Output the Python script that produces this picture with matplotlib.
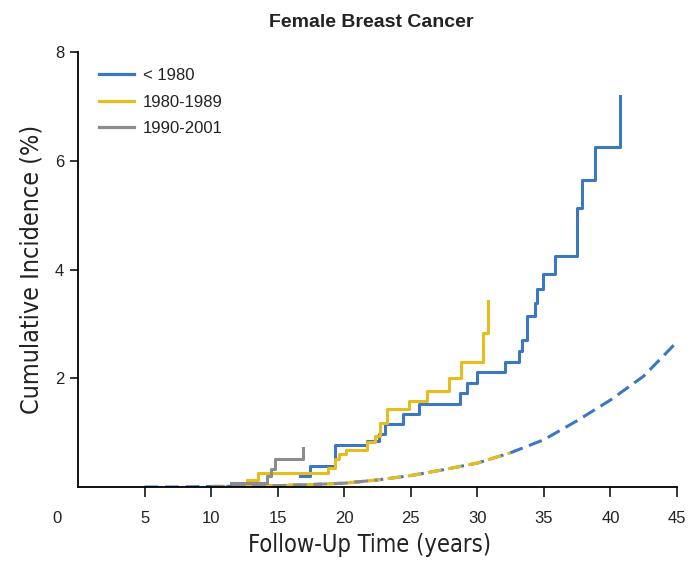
import matplotlib
matplotlib.use("Agg")
import matplotlib.pyplot as plt
from matplotlib.lines import Line2D
from matplotlib import font_manager as fm

# ---- data ----
blue_t = [16.7, 17.4, 19.3, 21.7, 22.6, 23.1, 24.4, 25.6, 28.7, 29.2, 30.0, 32.1,
          33.1, 33.35, 33.7, 34.3, 34.5, 34.95, 35.8, 37.45, 37.9, 38.85, 40.7]
blue_v = [0.20, 0.39, 0.77, 0.85, 0.98, 1.16, 1.35, 1.53, 1.72, 1.92, 2.12, 2.30,
          2.50, 2.70, 3.14, 3.39, 3.65, 3.92, 4.25, 5.13, 5.65, 6.25, 7.20]

yellow_t = [12.7, 13.5, 18.8, 19.3, 19.6, 20.1, 21.7, 22.3, 22.7, 23.2, 24.9, 26.2,
            27.9, 28.75, 30.4, 30.8]
yellow_v = [0.13, 0.26, 0.35, 0.52, 0.60, 0.68, 0.83, 0.93, 1.17, 1.43, 1.58, 1.76,
            2.00, 2.30, 2.83, 3.42]

gray_t = [11.5, 14.2, 14.5, 14.8, 16.9]
gray_v = [0.08, 0.20, 0.33, 0.52, 0.72]

# expected (population) curves, dashed
exp_t = [5, 7.5, 10, 12.5, 15, 17.5, 20, 22.5, 25, 27.5, 30, 32.5, 35, 37.5, 40, 42.5, 45]
exp_v = [0.0, 0.0, 0.01, 0.015, 0.025, 0.045, 0.07, 0.13, 0.21, 0.32, 0.44, 0.63,
         0.87, 1.22, 1.60, 2.04, 2.67]
exp_blue_range = (5, 45)
exp_yellow_range = (12.5, 32.5)
exp_gray_range = (10, 22.5)

labels = ["< 1980", "1980-1989", "1990-2001"]
x_ticks = [5, 10, 15, 20, 25, 30, 35, 40, 45]
y_ticks = [2, 4, 6, 8]

BLUE = "#3a78c4"
YELLOW = "#e6bd1c"
GRAY = "#8c8c8c"
TXT = "#222222"

plt.rcParams["font.family"] = ["Liberation Sans", "DejaVu Sans"]

# condensed font for axis titles if available
cond_props = None
try:
    fp = fm.FontProperties(family="DejaVu Sans", stretch="condensed")
    path = fm.findfont(fp, fallback_to_default=False)
    if "ondensed" in path:
        cond_props = dict(family="DejaVu Sans", stretch="condensed")
except Exception:
    pass
if cond_props is None:
    cond_props = dict(family="Roboto")
xl_size, yl_size = 17, 18

fig = plt.figure(figsize=(6.89, 5.61), dpi=100)
ax = fig.add_axes([0.1132, 0.1319, 0.8694, 0.7754])

def sub(lo, hi):
    pts = [(t, v) for t, v in zip(exp_t, exp_v) if lo <= t <= hi]
    return [p[0] for p in pts], [p[1] for p in pts]

lw = 2.2
dash = (4.5, 2.2)
for (lo, hi), c in [(exp_blue_range, BLUE), (exp_yellow_range, YELLOW), (exp_gray_range, GRAY)]:
    xs, ys = sub(lo, hi)
    ax.plot(xs, ys, color=c, lw=lw, linestyle=(0, dash), solid_capstyle="butt")

ax.plot(blue_t, blue_v, drawstyle="steps-post", color=BLUE, lw=lw)
ax.plot(yellow_t, yellow_v, drawstyle="steps-post", color=YELLOW, lw=lw)
ax.plot(gray_t, gray_v, drawstyle="steps-post", color=GRAY, lw=lw)

ax.set_xlim(0, 45)
ax.set_ylim(0, 8)
for s in ["top", "right"]:
    ax.spines[s].set_visible(False)
for s in ["left", "bottom"]:
    ax.spines[s].set_linewidth(1.3)
    ax.spines[s].set_color("black")

ax.set_xticks(x_ticks)
ax.set_xticklabels([str(v) for v in x_ticks])
ax.set_yticks(y_ticks)
ax.set_yticklabels([str(v) for v in y_ticks])
ax.tick_params(axis="x", direction="out", length=7, width=1.1, pad=10, labelsize=12, colors="black")
ax.tick_params(axis="y", direction="out", length=6, width=1.1, pad=4, labelsize=12, colors="black")
for lab in ax.get_xticklabels() + ax.get_yticklabels():
    lab.set_color(TXT)

# origin "0" label, left of the axis corner, in line with the x tick labels
ax.annotate("0", xy=(0, 0), xycoords="axes fraction", xytext=(-15, -17),
            textcoords="offset points", ha="center", va="top", fontsize=12, color=TXT)

ax.set_xlabel("Follow-Up Time (years)", fontsize=xl_size, color=TXT, **cond_props)
ax.xaxis.set_label_coords(0.487, -0.105)
ax.set_ylabel("Cumulative Incidence (%)", fontsize=yl_size, color=TXT, labelpad=8, **cond_props)

fig.text(0.5385, 0.960, "Female Breast Cancer", ha="center", va="center",
         fontsize=14, fontweight="bold", color=TXT)

handles = [Line2D([0], [0], color=c, lw=2.3) for c in (BLUE, YELLOW, GRAY)]
leg = ax.legend(handles, labels, loc="upper left", bbox_to_anchor=(0.01, 0.998),
                frameon=False, fontsize=12, handlelength=2.1, handletextpad=0.55,
                labelspacing=0.7)
for t in leg.get_texts():
    t.set_color(TXT)

fig.savefig("out.png", dpi=100)
